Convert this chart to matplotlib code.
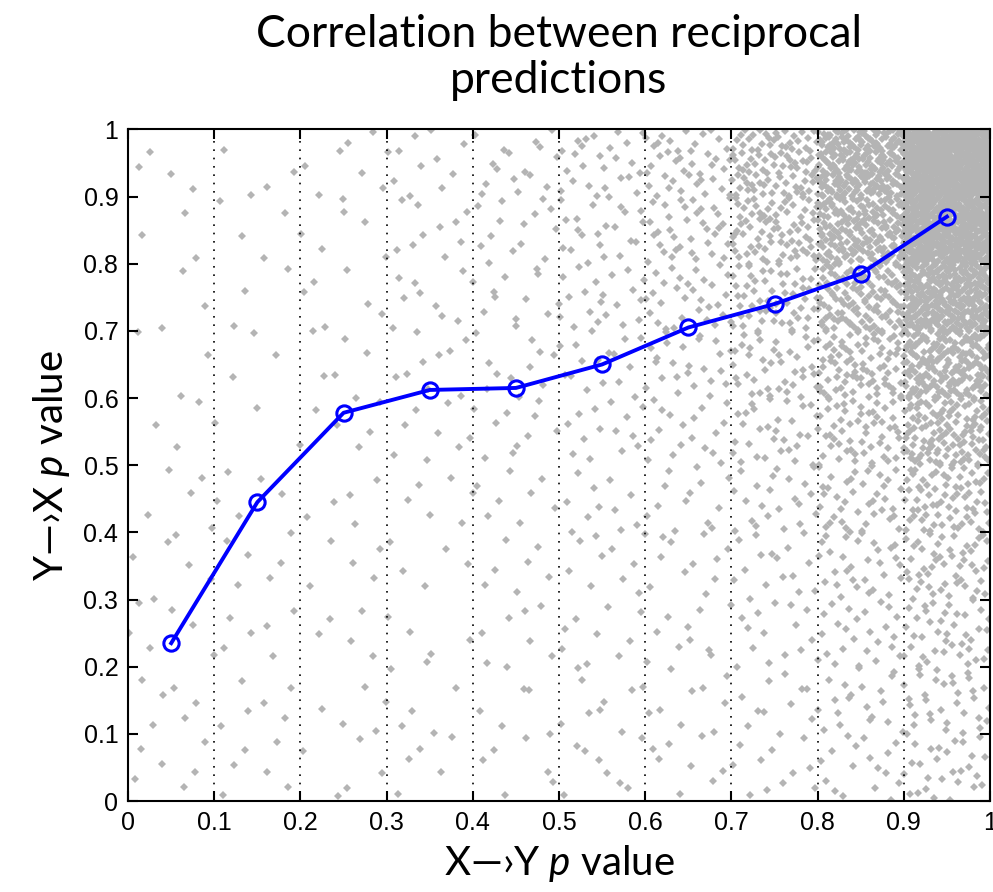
import numpy as np
import matplotlib
matplotlib.use("Agg")
import matplotlib.pyplot as plt

# Binned mean of the reciprocal p values (blue curve)
bin_centers = [0.05, 0.15, 0.25, 0.35, 0.45, 0.55, 0.65, 0.75, 0.85, 0.95]
mean_yx = [0.235, 0.445, 0.578, 0.612, 0.615, 0.650, 0.705, 0.740, 0.785, 0.870]

# Rough point counts of the grey cloud per 0.1 x 0.1 cell
# rows go from top (y 0.9-1.0) to bottom (y 0.0-0.1), columns x 0.0-0.1 ... 0.9-1.0
cell_counts = [
    [4, 4, 7, 11, 16, 25, 40, 90, 230, 620],
    [3, 4, 6, 10, 14, 22, 35, 75, 170, 450],
    [3, 3, 6, 9, 12, 20, 30, 55, 115, 280],
    [3, 3, 6, 9, 11, 16, 24, 40, 80, 180],
    [3, 3, 5, 8, 10, 14, 18, 30, 55, 115],
    [5, 5, 5, 6, 8, 11, 13, 22, 40, 70],
    [6, 6, 5, 5, 7, 10, 11, 16, 30, 50],
    [6, 6, 5, 5, 7, 9, 10, 14, 24, 40],
    [6, 6, 5, 5, 6, 9, 9, 12, 20, 32],
    [6, 6, 5, 5, 6, 8, 8, 11, 17, 28],
]

ticks = [0, 0.1, 0.2, 0.3, 0.4, 0.5, 0.6, 0.7, 0.8, 0.9, 1]
tick_labels = ["0", "0.1", "0.2", "0.3", "0.4", "0.5", "0.6", "0.7", "0.8", "0.9", "1"]

plt.rcParams["font.family"] = ["Liberation Sans", "DejaVu Sans"]
plt.rcParams["mathtext.fontset"] = "custom"
plt.rcParams["mathtext.rm"] = "Lato"
plt.rcParams["mathtext.it"] = "Lato:italic"


def halton(i, base):
    f, r = 1.0, 0.0
    while i > 0:
        f /= base
        r += f * (i % base)
        i //= base
    return r


# spread each cell's count evenly over the cell (Halton fill, no randomness)
cloud_x, cloud_y = [], []
for r, row in enumerate(cell_counts):
    y0 = 0.9 - 0.1 * r
    for c, n in enumerate(row):
        x0 = 0.1 * c
        start = 1 + 53 * (r * 10 + c)
        for k in range(start, start + n):
            cloud_x.append(x0 + 0.1 * halton(k, 2))
            cloud_y.append(y0 + 0.1 * halton(k, 3))

fig = plt.figure(figsize=(9.93, 8.92), dpi=100)
ax = fig.add_axes([0.129, 0.102, 0.868, 0.753])

ax.plot(cloud_x, cloud_y, linestyle="none", marker="D", markersize=3.6,
        color="#b4b4b4", markeredgewidth=0, zorder=1)
ax.plot(bin_centers, mean_yx, color="#0000ff", linewidth=2.8, marker="o",
        markersize=11, markerfacecolor="none", markeredgecolor="#0000ff",
        markeredgewidth=2.2, zorder=3)

ax.set_xlim(0, 1)
ax.set_ylim(0, 1)
ax.set_xticks(ticks)
ax.set_xticklabels(tick_labels)
ax.set_yticks(ticks)
ax.set_yticklabels(tick_labels)
ax.tick_params(direction="in", length=7, width=1.5, top=True, right=True,
               labelsize=18, pad=7, colors="black")
for s in ax.spines.values():
    s.set_linewidth(1.5)
ax.set_axisbelow(False)
ax.xaxis.grid(True, linestyle=(0, (1, 4)), color="black", linewidth=1.2)

ax.set_xlabel("X\u2014\u203aY $p$ value", fontsize=29, family="Lato", labelpad=6)
ax.set_ylabel("Y\u2014\u203aX $p$ value", fontsize=29, family="Lato", labelpad=8)
ax.set_title("Correlation between reciprocal\npredictions", fontsize=32,
             family="Lato", pad=26, linespacing=1.15)

fig.savefig("out.png", dpi=100)
